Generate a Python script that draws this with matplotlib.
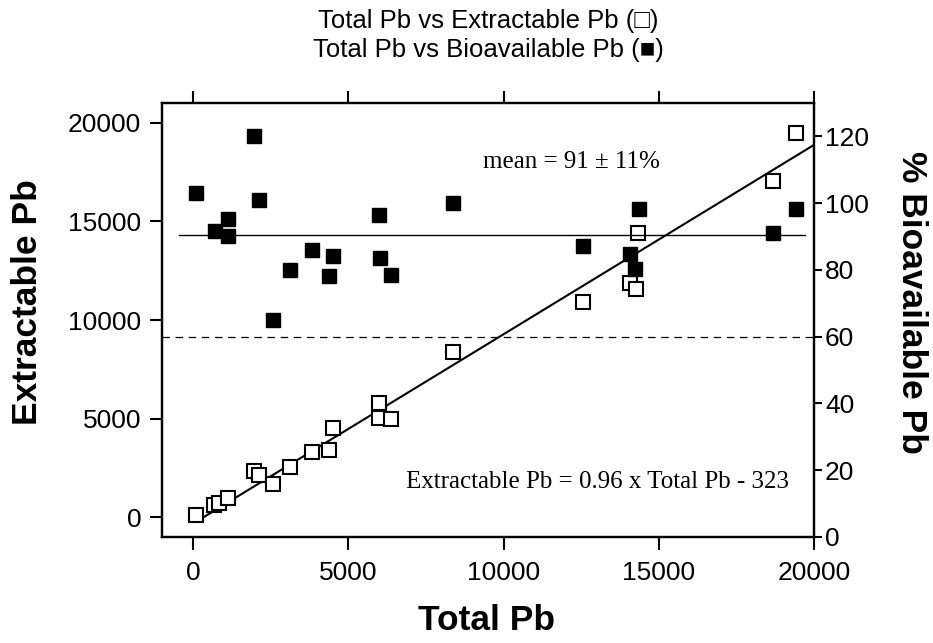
import matplotlib.pyplot as plt
import numpy as np

# open squares: total Pb vs extractable Pb (left axis)
total_pb_ext = [106, 662, 823, 1125, 1960, 2121, 2571, 3127, 3824, 4380, 4499,
                5977, 5997, 6372, 8387, 12552, 14074, 14267, 14319, 18670, 19428]
extractable_pb = [101, 643, 729, 1000, 2330, 2148, 1692, 2553, 3293, 3414, 4529,
                  5035, 5811, 5000, 8379, 10912, 11886, 11570, 14407, 17041, 19488]

# filled squares: total Pb vs % bioavailable Pb (right axis)
total_pb_bio = [106, 694, 1124, 1124, 1960, 2121, 2571, 3127, 3824, 4380, 4499,
                6019, 5997, 6372, 8387, 12552, 14074, 14245, 14351, 18670, 19428]
bioavailable_pct = [103.1, 91.7, 95.4, 90.2, 120.0, 100.8, 65.1, 80.1, 86.1, 78.1, 84.1,
                    83.6, 96.4, 78.6, 99.9, 87.1, 84.7, 80.4, 98.2, 91.1, 98.2]

slope, intercept = 0.96, -323
mean_pct = 90.5
mean_span = [-450, 19700]
cutoff_pct = 60

sans = ['Liberation Sans', 'DejaVu Sans']
serif = ['Liberation Serif', 'DejaVu Serif']

W, H = 933, 643
fig = plt.figure(figsize=(W / 100, H / 100), dpi=100)
ax = fig.add_axes([162 / W, 1 - 537 / H, (814 - 162) / W, (537 - 103) / H])
ax2 = ax.twinx()

# regression line and points
fit_x = np.array([min(total_pb_ext), 20000])
ax.plot(fit_x, slope * fit_x + intercept, color='black', lw=1.5, zorder=2)
ax.plot(total_pb_ext, extractable_pb, 's', ms=10, mfc='white', mec='black',
        mew=1.5, zorder=3)

ax2.axhline(cutoff_pct, color='black', lw=0.9, ls=(0, (6, 4.5)))
ax2.plot(mean_span, [mean_pct, mean_pct], color='black', lw=1.0)
ax2.plot(total_pb_bio, bioavailable_pct, 's', ms=10, color='black', zorder=3)

ax.set_xlim(-1000, 20000)
ax.set_ylim(-1000, 21000)
ax2.set_ylim(0, 130)
ax.set_xticks([0, 5000, 10000, 15000, 20000])
ax.set_yticks([0, 5000, 10000, 15000, 20000])
ax2.set_yticks([0, 20, 40, 60, 80, 100, 120])

for a in (ax, ax2):
    for s in a.spines.values():
        s.set_linewidth(1.6)

ax.tick_params(axis='x', top=True, direction='out', length=9, width=1.5,
               labelsize=19, pad=8)
ax.tick_params(axis='y', right=False, direction='out', length=9, width=1.5,
               labelsize=19, pad=6)
ax2.tick_params(axis='y', direction='out', length=6, width=1.5, labelsize=19, pad=2)
for lab in ax.get_xticklabels() + ax.get_yticklabels() + ax2.get_yticklabels():
    lab.set_family(sans)

# titles and axis labels
fig.text(488 / W, 1 - 21 / H, 'Total Pb vs Extractable Pb (\u25a1)', ha='center',
         va='center', fontsize=18.5, family=sans)
fig.text(488 / W, 1 - 50 / H, 'Total Pb vs Bioavailable Pb (\u25a0)', ha='center',
         va='center', fontsize=18.5, family=sans)
fig.text(487 / W, 1 - 621 / H, 'Total Pb', ha='center', va='center',
         fontsize=25.5, fontweight='bold', family=sans)
fig.text(28 / W, 1 - 302 / H, 'Extractable Pb', ha='center', va='center',
         rotation=90, fontsize=25.5, fontweight='bold', family=sans)
fig.text(912 / W, 1 - 302 / H, '% Bioavailable Pb', ha='center', va='center',
         rotation=270, fontsize=25.5, fontweight='bold', family=sans)

# annotations
fig.text(571 / W, 1 - 162 / H, 'mean = 91 \u00b1 11%', ha='center', va='center',
         fontsize=18, family=serif)
fig.text(597 / W, 1 - 482 / H, 'Extractable Pb = 0.96 x Total Pb - 323',
         ha='center', va='center', fontsize=18, family=serif)

fig.savefig('out.png', dpi=100)
